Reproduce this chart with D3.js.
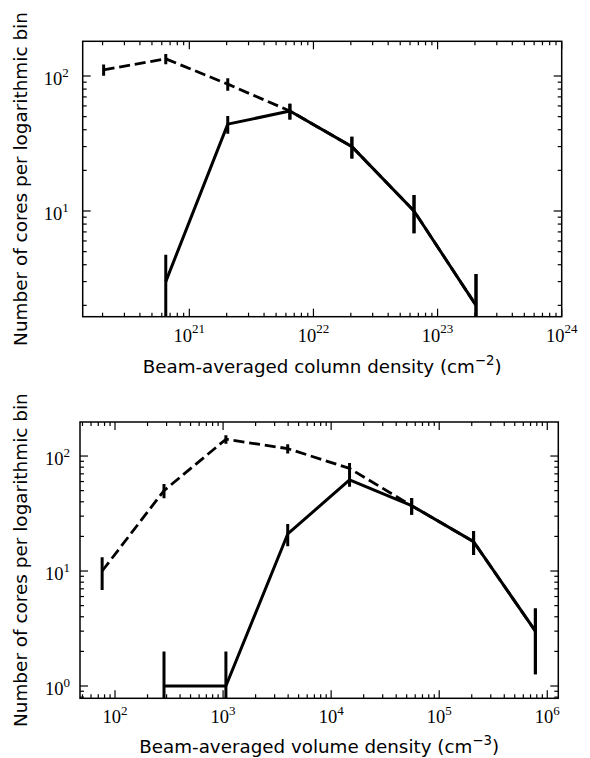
<!DOCTYPE html>
<html>
<head>
<meta charset="utf-8">
<script src="https://cdn.jsdelivr.net/npm/d3@7"></script>
<style>
  html, body { margin: 0; padding: 0; background: #fff; }
  svg { display: block; }
</style>
</head>
<body>
<script>
// ---------- DATA ----------
// Top panel: beam-averaged column density bins (cm^-2)
const colDensBins   = [2.04e20, 6.46e20, 2.04e21, 6.46e21, 2.04e22, 6.46e22, 2.04e23];
const colAllCores   = [111, 134, 87, 55, 30, 10, 2];
const colSubset     = [null, 3, 44, 55, 30, 10, 2];
const colXTickExp   = [21, 22, 23, 24];
const colYTickExp   = [1, 2];

// Bottom panel: beam-averaged volume density bins (cm^-3)
const volDensBins   = [76, 284, 1062, 3964, 14800, 55600, 208000, 776000];
const volAllCores   = [10, 50, 140, 116, 78, 37, 18, 3];
const volSubset     = [null, 1, 1, 21, 62, 37, 18, 3];
const volXTickExp   = [2, 3, 4, 5, 6];
const volYTickExp   = [0, 1, 2];

const yLabelText = "Number of cores per logarithmic bin";
const colXLabel = ["Beam-averaged column density (cm", "\u22122", ")"];
const volXLabel = ["Beam-averaged volume density (cm", "\u22123", ")"];

// ---------- LAYOUT ----------
const W = 590, H = 758;
const svg = d3.select("body").append("svg").attr("width", W).attr("height", H);

const panels = [
  { box: {l: 82.7, t: 41.3, r: 561.7, b: 316.7},
    xDom: [Math.pow(10, 20.141), 1e24], yDom: [Math.pow(10, 0.217), Math.pow(10, 2.257)],
    bins: colDensBins, all: colAllCores, sub: colSubset,
    xExp: colXTickExp, yExp: colYTickExp, xLabel: colXLabel, yPad: 14, xLabelDy: 56.5, xLabelW: 359 },
  { box: {l: 80, t: 422, r: 558.3, b: 698.3},
    xDom: [Math.pow(10, 1.676), Math.pow(10, 6.102)], yDom: [Math.pow(10, -0.107), Math.pow(10, 2.296)],
    bins: volDensBins, all: volAllCores, sub: volSubset,
    xExp: volXTickExp, yExp: volYTickExp, xLabel: volXLabel, yPad: 10, xLabelDy: 54.5, xLabelW: 360 }
];

const serif = "'Liberation Serif', 'DejaVu Serif', serif";
const sans = "'DejaVu Sans', sans-serif";

function minorTicks(dom) {
  const out = [];
  const lo = Math.floor(Math.log10(dom[0])), hi = Math.ceil(Math.log10(dom[1]));
  for (let e = lo; e <= hi; e++) {
    for (let m = 1; m <= 9; m++) {
      const v = m * Math.pow(10, e);
      if (v >= dom[0] * 0.9999 && v <= dom[1] * 1.0001) out.push({v, major: m === 1});
    }
  }
  return out;
}

// scale a text element's font sizes so its width matches a target
function fitWidth(sel, target) {
  const w = sel.node().getBBox().width;
  if (!w) return;
  const k = target / w;
  const fs = parseFloat(sel.attr("font-size"));
  sel.attr("font-size", fs * k);
  sel.selectAll("tspan").each(function () {
    const t = d3.select(this);
    const f = t.attr("font-size");
    if (f) t.attr("font-size", parseFloat(f) * k);
    const dy = t.attr("dy");
    if (dy) t.attr("dy", parseFloat(dy) * k);
  });
}

panels.forEach((p, i) => {
  const b = p.box;
  const x = d3.scaleLog().domain(p.xDom).range([b.l, b.r]);
  const y = d3.scaleLog().domain(p.yDom).range([b.b, b.t]);
  const g = svg.append("g");
  const clipId = "clip" + i;
  svg.append("defs").append("clipPath").attr("id", clipId)
    .append("rect").attr("x", b.l).attr("y", b.t).attr("width", b.r - b.l).attr("height", b.b - b.t);

  const plot = g.append("g").attr("clip-path", `url(#${clipId})`);

  const ySafe = v => (v <= p.yDom[0] ? b.b + 2 : y(v));

  const allPts = p.bins.map((bx, k) => ({x: bx, v: p.all[k]}));
  const subPts = p.bins.map((bx, k) => ({x: bx, v: p.sub[k]})).filter(d => d.v != null);

  const line = d3.line().x(d => x(d.x)).y(d => ySafe(d.v));

  // dashed series (all cores)
  plot.append("path").datum(allPts).attr("d", line)
    .attr("fill", "none").attr("stroke", "#000").attr("stroke-width", 2.8)
    .attr("stroke-dasharray", "11,4.8").attr("stroke-linejoin", "round");
  plot.selectAll(".eb-all").data(allPts).enter().append("line")
    .attr("x1", d => x(d.x)).attr("x2", d => x(d.x))
    .attr("y1", d => ySafe(d.v - Math.sqrt(d.v))).attr("y2", d => ySafe(d.v + Math.sqrt(d.v)))
    .attr("stroke", "#000").attr("stroke-width", 3);

  // solid series (subset)
  plot.append("path").datum(subPts).attr("d", line)
    .attr("fill", "none").attr("stroke", "#000").attr("stroke-width", 3)
    .attr("stroke-linejoin", "round");
  plot.selectAll(".eb-sub").data(subPts).enter().append("line")
    .attr("x1", d => x(d.x)).attr("x2", d => x(d.x))
    .attr("y1", d => ySafe(d.v - Math.sqrt(d.v))).attr("y2", d => ySafe(d.v + Math.sqrt(d.v)))
    .attr("stroke", "#000").attr("stroke-width", 3);

  // ticks (inward, all sides)
  const tk = g.append("g").attr("stroke", "#000").attr("stroke-width", 1.2);
  minorTicks(p.xDom).forEach(t => {
    const L = t.major ? 8 : 4, xx = x(t.v);
    tk.append("line").attr("x1", xx).attr("x2", xx).attr("y1", b.b).attr("y2", b.b - L);
    tk.append("line").attr("x1", xx).attr("x2", xx).attr("y1", b.t).attr("y2", b.t + L);
  });
  minorTicks(p.yDom).forEach(t => {
    const L = t.major ? 8 : 4, yy = y(t.v);
    tk.append("line").attr("x1", b.l).attr("x2", b.l + L).attr("y1", yy).attr("y2", yy);
    tk.append("line").attr("x1", b.r).attr("x2", b.r - L).attr("y1", yy).attr("y2", yy);
  });

  // frame
  g.append("rect").attr("x", b.l).attr("y", b.t).attr("width", b.r - b.l).attr("height", b.b - b.t)
    .attr("fill", "none").attr("stroke", "#000").attr("stroke-width", 1.5);

  // x tick labels
  p.xExp.forEach(e => {
    const t = g.append("text").attr("x", x(Math.pow(10, e))).attr("y", b.b + 25)
      .attr("text-anchor", "middle").attr("font-family", serif).attr("font-size", 18.5).attr("fill", "#000");
    t.append("tspan").text("10");
    t.append("tspan").attr("dy", -8.4).attr("font-size", 13).text(String(e));
  });
  // y tick labels
  p.yExp.forEach(e => {
    const t = g.append("text").attr("x", b.l - p.yPad).attr("y", y(Math.pow(10, e)) + 9)
      .attr("text-anchor", "end").attr("font-family", serif).attr("font-size", 18.5).attr("fill", "#000");
    t.append("tspan").text("10");
    t.append("tspan").attr("dy", -8.4).attr("font-size", 13).text(String(e));
  });

  // x label
  const xl = g.append("text").attr("x", (b.l + b.r) / 2).attr("y", b.b + p.xLabelDy)
    .attr("text-anchor", "middle").attr("font-family", sans).attr("font-size", 16.5).attr("fill", "#000");
  xl.append("tspan").text(p.xLabel[0]);
  xl.append("tspan").attr("dy", -7).attr("font-size", 12).text(p.xLabel[1]);
  xl.append("tspan").attr("dy", 7).text(p.xLabel[2]);
  fitWidth(xl, p.xLabelW);

  // y label
  const yl = g.append("text").attr("transform", `translate(27,${(b.t + b.b) / 2}) rotate(-90)`)
    .attr("text-anchor", "middle").attr("font-family", sans).attr("font-size", 16.5).attr("fill", "#000")
    .text(yLabelText);
  fitWidth(yl, 334);
});
</script>
</body>
</html>
